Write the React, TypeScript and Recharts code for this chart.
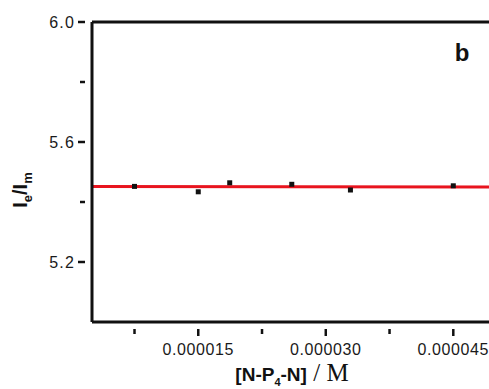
import {
  ComposedChart,
  Scatter,
  Line,
  XAxis,
  YAxis,
  ReferenceLine,
  Label,
} from 'recharts'

// measured points (concentration in M, Ie/Im)
const concentrations = [0.0000075, 0.000015, 0.0000187, 0.000026, 0.0000329, 0.000045]
const ratios = [5.452, 5.434, 5.464, 5.459, 5.44, 5.454]

// linear fit, drawn across the axis range
const fitX = [0.0000025, 0.0000492]
const fitY = [5.452, 5.45]

const xTicks = [0.0000075, 0.000015, 0.0000225, 0.00003, 0.0000375, 0.000045]
const xTickLabels = ['', '0.000015', '', '0.000030', '', '0.000045']
const yTicks = [5.2, 5.4, 5.6, 5.8, 6.0]
const yTickLabels = ['5.2', '', '5.6', '', '6.0']

const points = concentrations.map((c, i) => ({ x: c, y: ratios[i] }))
const fit = fitX.map((c, i) => ({ x: c, y: fitY[i] }))

const tickFont = {
  fontFamily: '"Liberation Sans", Arial, sans-serif',
  fontSize: 16,
  letterSpacing: 0.6,
  fill: '#1a1a1a',
}

function XTick({ x, y, index }: any) {
  const label = xTickLabels[index] ?? ''
  const len = label ? 6 : 4
  return (
    <g>
      <line x1={x} x2={x} y1={y - 1} y2={y + len} stroke='#111' strokeWidth={2.5} />
      {label && (
        <text x={x} y={y + 25} textAnchor='middle' {...tickFont}>
          {label}
        </text>
      )}
    </g>
  )
}

function YTick({ x, y, index }: any) {
  const label = yTickLabels[index] ?? ''
  const len = label ? 6 : 4
  return (
    <g>
      <line x1={x - len} x2={x + 1} y1={y} y2={y} stroke='#111' strokeWidth={2.5} />
      {label && (
        <text x={x - 9} y={y + 6} textAnchor='end' {...tickFont} letterSpacing={1.2}>
          {label}
        </text>
      )}
    </g>
  )
}

function Square({ cx, cy }: any) {
  return <rect x={cx - 2.5} y={cy - 2.5} width={5} height={5} fill='#111' />
}

export default function App() {
  return (
    <div style={{ position: 'absolute', left: 0, top: 0, background: '#fff' }}>
      <ComposedChart
        width={489}
        height={389}
        margin={{ top: 22, right: 0, bottom: 0, left: 0 }}
      >
        <XAxis
          type='number'
          dataKey='x'
          domain={[0.0000025, 0.0000492]}
          ticks={xTicks}
          allowDataOverflow
          height={67}
          stroke='#111'
          strokeWidth={3}
          tickLine={false}
          tick={<XTick />}
          interval={0}
        >
          <Label
            content={() => (
              <text x={292} y={381} textAnchor='middle' fill='#111'>
                <tspan fontFamily='"Liberation Sans", Arial, sans-serif' fontWeight='bold' fontSize={19}>
                  [N-P
                </tspan>
                <tspan fontFamily='"Liberation Sans", Arial, sans-serif' fontWeight='bold' fontSize={11} dy={5}>
                  4
                </tspan>
                <tspan fontFamily='"Liberation Sans", Arial, sans-serif' fontWeight='bold' fontSize={19} dy={-5}>
                  -N]
                </tspan>
                <tspan fontFamily='"Liberation Serif", "Times New Roman", serif' fontSize={25}>
                  {' / M'}
                </tspan>
              </text>
            )}
          />
        </XAxis>
        <YAxis
          type='number'
          dataKey='y'
          domain={[5.0, 6.0]}
          ticks={yTicks}
          allowDataOverflow
          width={92}
          stroke='#111'
          strokeWidth={3}
          tickLine={false}
          tick={<YTick />}
          interval={0}
        >
          <Label
            content={() => (
              <text
                x={27}
                y={190}
                textAnchor='middle'
                transform='rotate(-90, 27, 190)'
                fill='#111'
                fontFamily='"Liberation Sans", Arial, sans-serif'
                fontWeight='bold'
              >
                <tspan fontSize={20}>I</tspan>
                <tspan fontSize={13} dy={5}>e</tspan>
                <tspan fontSize={20} dy={-5}>/I</tspan>
                <tspan fontSize={13} dy={5}>m</tspan>
              </text>
            )}
          />
        </YAxis>
        <ReferenceLine y={6.0} stroke='#111' strokeWidth={3}>
          <Label
            content={() => (
              <text
                x={462}
                y={61}
                textAnchor='middle'
                fill='#111'
                fontFamily='"Liberation Sans", Arial, sans-serif'
                fontWeight='bold'
                fontSize={24}
              >
                b
              </text>
            )}
          />
        </ReferenceLine>
        <Scatter data={points} shape={<Square />} isAnimationActive={false} />
        <Line
          data={fit}
          dataKey='y'
          type='linear'
          stroke='#e8141e'
          strokeWidth={3}
          dot={false}
          activeDot={false}
          isAnimationActive={false}
        />
      </ComposedChart>
    </div>
  )
}
